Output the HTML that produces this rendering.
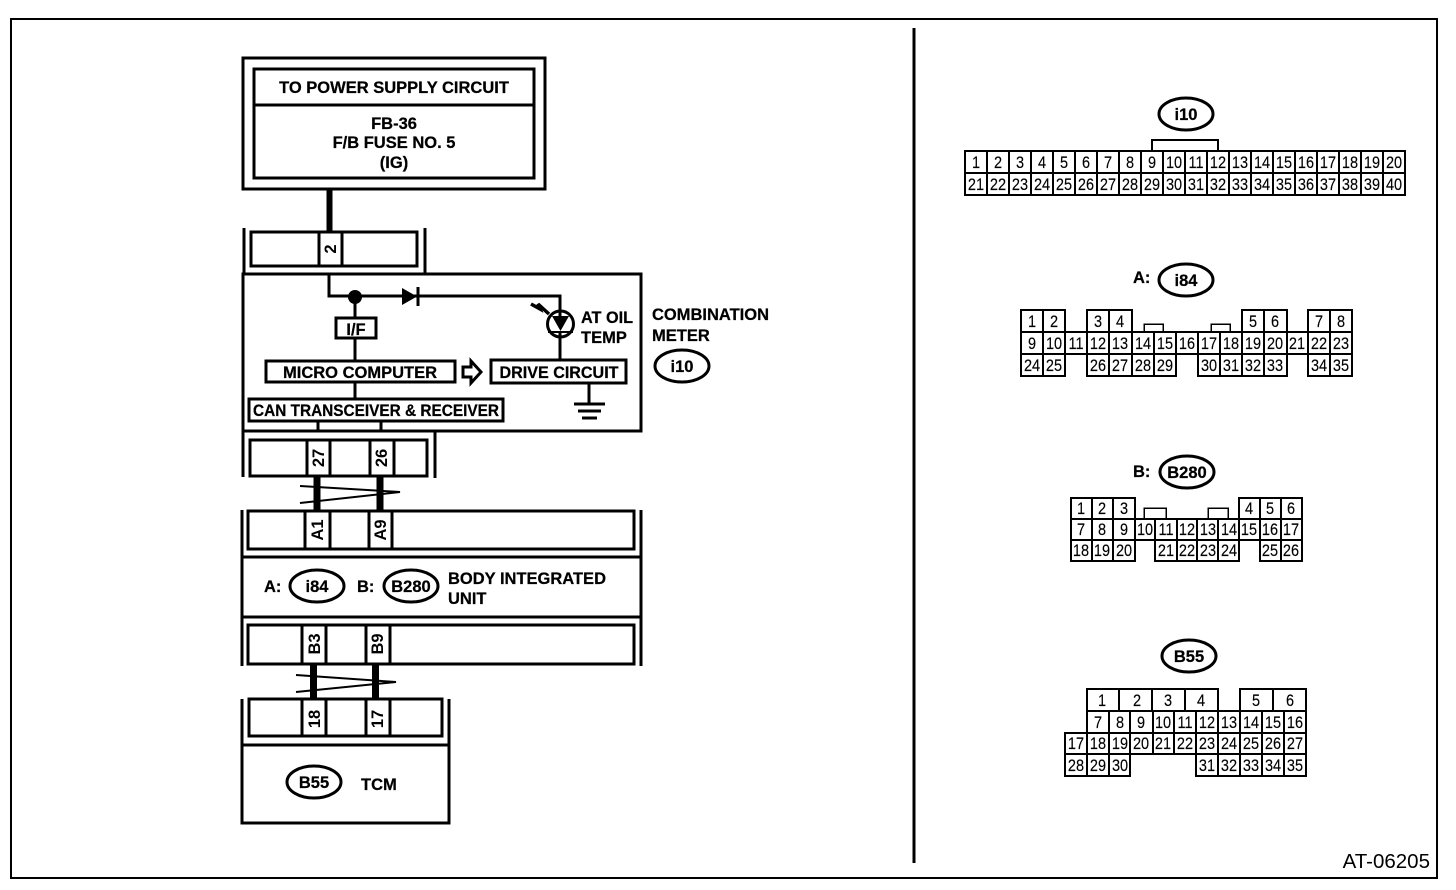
<!DOCTYPE html>
<html><head><meta charset="utf-8"><style>
html,body{margin:0;padding:0;background:#fff}
svg{display:block}
text{font-family:"Liberation Sans",sans-serif;fill:#000}
.b{font-weight:bold;font-size:16.5px;stroke:#000;stroke-width:.25}
.m{text-anchor:middle}
.r{font-size:16.5px;text-anchor:middle;transform-box:fill-box;transform-origin:center;transform:scaleX(.88);stroke:#000;stroke-width:.15}
.v{font-weight:bold;font-size:16.5px;text-anchor:middle}
.l{fill:none;stroke:#000;stroke-width:3;shape-rendering:crispEdges}
.g{fill:none;stroke:#000;stroke-width:2;shape-rendering:crispEdges}
.t{fill:none;stroke:#000;stroke-width:1.5;shape-rendering:crispEdges}
.o{fill:#fff;stroke:#000;stroke-width:3}
</style></head><body>
<svg width="1456" height="890" viewBox="0 0 1456 890" xmlns="http://www.w3.org/2000/svg">
<rect width="1456" height="890" fill="#fff"/>
<rect x="11" y="19" width="1426" height="859" class="g"/>
<path d="M914 28V863" class="l" style="stroke-width:3"/>

<!-- top box -->
<rect x="243" y="58" width="302" height="131" class="l"/>
<rect x="254" y="69" width="280" height="109" class="l"/>
<path d="M254 105H534" class="l"/>
<text x="394" y="93" class="b m">TO POWER SUPPLY CIRCUIT</text>
<text x="394" y="129" class="b m">FB-36</text>
<text x="394" y="148" class="b m">F/B FUSE NO. 5</text>
<text x="394" y="168" class="b m">(IG)</text>
<path d="M329.500 189V232" class="l" style="stroke-width:6"/>

<!-- connector 2 -->
<path d="M244 228V274M425 228V274" class="l"/>
<rect x="251" y="232" width="166" height="34" class="l"/>
<path d="M319 232V266M342 232V266" class="l"/>
<text transform="translate(336,249) rotate(-90)" class="v">2</text>

<!-- meter box -->
<rect x="243" y="274" width="398" height="157" class="l"/>
<path d="M329 274V296H560V359M355 296V318M355 338V361M355 383V399M318 422V431M381 422V431M589 383V404" class="l"/>
<circle cx="355" cy="297" r="7" fill="#000"/>
<path d="M402 288L417 296.500L402 305Z" fill="#000"/>
<path d="M418 287V306" class="l"/>
<rect x="336" y="318" width="40" height="20" class="l"/>
<text x="356" y="335" class="b m">I/F</text>
<rect x="266" y="361" width="189" height="21" class="l"/>
<text x="360" y="378" class="b m">MICRO COMPUTER</text>
<path d="M463 367H471V361L481 372L471 383V377H463Z" fill="#fff" stroke="#000" stroke-width="3"/>
<rect x="491" y="360" width="135" height="23" class="l"/>
<text x="559" y="378" class="b m" textLength="119" lengthAdjust="spacingAndGlyphs">DRIVE CIRCUIT</text>
<rect x="249" y="399" width="254" height="22" class="l"/>
<text x="376" y="416" class="b m" textLength="246" lengthAdjust="spacingAndGlyphs">CAN TRANSCEIVER &amp; RECEIVER</text>
<path d="M574 404H605M578 411H601M582 418H597" class="l"/>
<circle cx="560.500" cy="324" r="13" fill="#fff" stroke="#000" stroke-width="3"/>
<path d="M552 316H569L560.500 331Z" fill="#000"/>
<path d="M548 332H573" class="g"/>
<path d="M560 296V318M560 331V359" class="l"/>
<path d="M531 304L540 309L538 304L549 314" fill="none" stroke="#000" stroke-width="3.500"/>
<text x="581" y="323" class="b" textLength="52" lengthAdjust="spacingAndGlyphs">AT OIL</text>
<text x="581" y="343" class="b">TEMP</text>
<text x="652" y="320" class="b">COMBINATION</text>
<text x="652" y="341" class="b">METER</text>
<ellipse cx="682" cy="366" rx="27" ry="16" class="o"/>
<text x="682" y="372" class="b m">i10</text>

<!-- connector 27/26 -->
<path d="M243 431V477M435 431V478" class="l"/>
<rect x="250" y="440" width="177" height="36" class="l"/>
<path d="M307 440V476M330 440V476M370 440V476M394 440V476" class="l"/>
<text transform="translate(324,458) rotate(-90)" class="v">27</text>
<text transform="translate(387,458) rotate(-90)" class="v">26</text>
<path d="M317 477V511M380 477V511" class="l" style="stroke-width:7"/>
<path d="M300 486L400 492L300 503" fill="none" stroke="#000" stroke-width="2"/>

<!-- body unit -->
<path d="M242 510V666M641 510V666M242 557H641M242 617H641" class="l"/>
<rect x="248" y="511" width="386" height="38" class="l"/>
<path d="M305 511V549M330 511V549M369 511V549M392 511V549" class="l"/>
<text transform="translate(323,530) rotate(-90)" class="v">A1</text>
<text transform="translate(386,530) rotate(-90)" class="v">A9</text>
<text x="264" y="592" class="b">A:</text>
<ellipse cx="317" cy="586" rx="27" ry="16" class="o"/>
<text x="317" y="592" class="b m">i84</text>
<text x="357" y="592" class="b">B:</text>
<ellipse cx="411" cy="586" rx="27" ry="16" class="o"/>
<text x="411" y="592" class="b m">B280</text>
<text x="448" y="584" class="b">BODY INTEGRATED</text>
<text x="448" y="604" class="b">UNIT</text>
<rect x="248" y="625" width="386" height="39" class="l"/>
<path d="M302 625V664M326 625V664M366 625V664M390 625V664" class="l"/>
<text transform="translate(320,644) rotate(-90)" class="v">B3</text>
<text transform="translate(383,644) rotate(-90)" class="v">B9</text>
<path d="M313.500 664V700M375.500 664V700" class="l" style="stroke-width:7"/>
<path d="M296 675L396 682L296 692" fill="none" stroke="#000" stroke-width="2"/>

<!-- TCM -->
<path d="M242 699V823H449V699M242 745H449" class="l"/>
<rect x="249" y="699" width="193" height="37" class="l"/>
<path d="M302 699V736M326 699V736M366 699V736M390 699V736" class="l"/>
<text transform="translate(320,719) rotate(-90)" class="v">18</text>
<text transform="translate(383,719) rotate(-90)" class="v">17</text>
<ellipse cx="314" cy="782" rx="27" ry="16" class="o"/>
<text x="314" y="788" class="b m">B55</text>
<text x="361" y="790" class="b">TCM</text>

<text x="1430" y="868" style="font-size:20.5px;text-anchor:end">AT-06205</text>

<!-- i10 -->
<ellipse cx="1186" cy="114" rx="27" ry="16" class="o"/>
<text x="1186" y="120" class="b m">i10</text>
<path d="M1152 151V140H1218V151" class="g"/>
<rect x="965" y="151" width="440" height="44" class="g"/>
<path d="M965 173H1405M987 151V195M1009 151V195M1031 151V195M1053 151V195M1075 151V195M1097 151V195M1119 151V195M1141 151V195M1163 151V195M1185 151V195M1207 151V195M1229 151V195M1251 151V195M1273 151V195M1295 151V195M1317 151V195M1339 151V195M1361 151V195M1383 151V195" class="g"/>
<text x="976" y="168" class="r">1</text><text x="998" y="168" class="r">2</text><text x="1020" y="168" class="r">3</text><text x="1042" y="168" class="r">4</text><text x="1064" y="168" class="r">5</text><text x="1086" y="168" class="r">6</text><text x="1108" y="168" class="r">7</text><text x="1130" y="168" class="r">8</text><text x="1152" y="168" class="r">9</text><text x="1174" y="168" class="r">10</text><text x="1196" y="168" class="r">11</text><text x="1218" y="168" class="r">12</text><text x="1240" y="168" class="r">13</text><text x="1262" y="168" class="r">14</text><text x="1284" y="168" class="r">15</text><text x="1306" y="168" class="r">16</text><text x="1328" y="168" class="r">17</text><text x="1350" y="168" class="r">18</text><text x="1372" y="168" class="r">19</text><text x="1394" y="168" class="r">20</text>
<text x="976" y="190" class="r">21</text><text x="998" y="190" class="r">22</text><text x="1020" y="190" class="r">23</text><text x="1042" y="190" class="r">24</text><text x="1064" y="190" class="r">25</text><text x="1086" y="190" class="r">26</text><text x="1108" y="190" class="r">27</text><text x="1130" y="190" class="r">28</text><text x="1152" y="190" class="r">29</text><text x="1174" y="190" class="r">30</text><text x="1196" y="190" class="r">31</text><text x="1218" y="190" class="r">32</text><text x="1240" y="190" class="r">33</text><text x="1262" y="190" class="r">34</text><text x="1284" y="190" class="r">35</text><text x="1306" y="190" class="r">36</text><text x="1328" y="190" class="r">37</text><text x="1350" y="190" class="r">38</text><text x="1372" y="190" class="r">39</text><text x="1394" y="190" class="r">40</text>

<!-- i84 -->
<text x="1133" y="283" class="b">A:</text>
<ellipse cx="1186" cy="280" rx="27" ry="16" class="o"/>
<text x="1186" y="286" class="b m">i84</text>
<path d="M1144 332V324H1163V332M1211 332V324H1230V332" class="t"/>
<path d="M1021 310H1065V332H1021ZM1087 310H1132V332H1087ZM1242 310H1287V332H1242ZM1308 310H1352V332H1308ZM1021 332H1352V354H1021ZM1021 354H1065V376H1021ZM1087 354H1176V376H1087ZM1198 354H1287V376H1198ZM1308 354H1352V376H1308ZM1043 310V332M1109 310V332M1264 310V332M1330 310V332M1043 332V354M1065 332V354M1087 332V354M1109 332V354M1132 332V354M1154 332V354M1176 332V354M1198 332V354M1220 332V354M1242 332V354M1264 332V354M1287 332V354M1308 332V354M1330 332V354M1043 354V376M1109 354V376M1132 354V376M1154 354V376M1220 354V376M1242 354V376M1264 354V376M1330 354V376" class="g"/>
<text x="1032" y="327" class="r">1</text><text x="1054" y="327" class="r">2</text><text x="1098" y="327" class="r">3</text><text x="1120" y="327" class="r">4</text><text x="1253" y="327" class="r">5</text><text x="1275" y="327" class="r">6</text><text x="1319" y="327" class="r">7</text><text x="1341" y="327" class="r">8</text>
<text x="1032" y="349" class="r">9</text><text x="1054" y="349" class="r">10</text><text x="1076" y="349" class="r">11</text><text x="1098" y="349" class="r">12</text><text x="1120" y="349" class="r">13</text><text x="1143" y="349" class="r">14</text><text x="1165" y="349" class="r">15</text><text x="1187" y="349" class="r">16</text><text x="1209" y="349" class="r">17</text><text x="1231" y="349" class="r">18</text><text x="1253" y="349" class="r">19</text><text x="1275" y="349" class="r">20</text><text x="1297" y="349" class="r">21</text><text x="1319" y="349" class="r">22</text><text x="1341" y="349" class="r">23</text>
<text x="1032" y="371" class="r">24</text><text x="1054" y="371" class="r">25</text><text x="1098" y="371" class="r">26</text><text x="1120" y="371" class="r">27</text><text x="1143" y="371" class="r">28</text><text x="1165" y="371" class="r">29</text><text x="1209" y="371" class="r">30</text><text x="1231" y="371" class="r">31</text><text x="1253" y="371" class="r">32</text><text x="1275" y="371" class="r">33</text><text x="1319" y="371" class="r">34</text><text x="1341" y="371" class="r">35</text>

<!-- B280 -->
<text x="1133" y="477" class="b">B:</text>
<ellipse cx="1187" cy="472" rx="27" ry="16" class="o"/>
<text x="1187" y="478" class="b m">B280</text>
<path d="M1144 519V508H1166V519M1208 519V508H1228V519" class="t"/>
<path d="M1071 498H1135V519H1071ZM1239 498H1302V519H1239ZM1071 519H1302V540H1071ZM1071 540H1135V561H1071ZM1155 540H1239V561H1155ZM1260 540H1302V561H1260ZM1092 498V519M1113 498V519M1260 498V519M1281 498V519M1092 519V540M1113 519V540M1135 519V540M1155 519V540M1177 519V540M1197 519V540M1218 519V540M1239 519V540M1260 519V540M1281 519V540M1092 540V561M1113 540V561M1177 540V561M1197 540V561M1218 540V561M1281 540V561" class="g"/>
<text x="1081" y="514" class="r">1</text><text x="1102" y="514" class="r">2</text><text x="1124" y="514" class="r">3</text><text x="1249" y="514" class="r">4</text><text x="1270" y="514" class="r">5</text><text x="1291" y="514" class="r">6</text>
<text x="1081" y="535" class="r">7</text><text x="1102" y="535" class="r">8</text><text x="1124" y="535" class="r">9</text><text x="1145" y="535" class="r">10</text><text x="1166" y="535" class="r">11</text><text x="1187" y="535" class="r">12</text><text x="1208" y="535" class="r">13</text><text x="1229" y="535" class="r">14</text><text x="1249" y="535" class="r">15</text><text x="1270" y="535" class="r">16</text><text x="1291" y="535" class="r">17</text>
<text x="1081" y="556" class="r">18</text><text x="1102" y="556" class="r">19</text><text x="1124" y="556" class="r">20</text><text x="1166" y="556" class="r">21</text><text x="1187" y="556" class="r">22</text><text x="1208" y="556" class="r">23</text><text x="1229" y="556" class="r">24</text><text x="1270" y="556" class="r">25</text><text x="1291" y="556" class="r">26</text>

<!-- B55 -->
<ellipse cx="1189" cy="656" rx="27" ry="16" class="o"/>
<text x="1189" y="662" class="b m">B55</text>
<path d="M1087 689H1218V711H1087ZM1240 689H1306V711H1240ZM1087 711H1306V733H1087ZM1065 733H1306V754H1065ZM1065 754H1130V776H1065ZM1196 754H1306V776H1196ZM1119 689V711M1152 689V711M1185 689V711M1273 689V711M1109 711V733M1130 711V733M1153 711V733M1174 711V733M1196 711V733M1218 711V733M1240 711V733M1262 711V733M1284 711V733M1087 733V754M1109 733V754M1130 733V754M1153 733V754M1174 733V754M1196 733V754M1218 733V754M1240 733V754M1262 733V754M1284 733V754M1087 754V776M1109 754V776M1218 754V776M1240 754V776M1262 754V776M1284 754V776" class="g"/>
<text x="1102" y="706" class="r">1</text><text x="1137" y="706" class="r">2</text><text x="1168" y="706" class="r">3</text><text x="1201" y="706" class="r">4</text><text x="1256" y="706" class="r">5</text><text x="1290" y="706" class="r">6</text>
<text x="1098" y="728" class="r">7</text><text x="1120" y="728" class="r">8</text><text x="1141" y="728" class="r">9</text><text x="1163" y="728" class="r">10</text><text x="1185" y="728" class="r">11</text><text x="1207" y="728" class="r">12</text><text x="1229" y="728" class="r">13</text><text x="1251" y="728" class="r">14</text><text x="1273" y="728" class="r">15</text><text x="1295" y="728" class="r">16</text>
<text x="1076" y="749" class="r">17</text><text x="1098" y="749" class="r">18</text><text x="1120" y="749" class="r">19</text><text x="1141" y="749" class="r">20</text><text x="1163" y="749" class="r">21</text><text x="1185" y="749" class="r">22</text><text x="1207" y="749" class="r">23</text><text x="1229" y="749" class="r">24</text><text x="1251" y="749" class="r">25</text><text x="1273" y="749" class="r">26</text><text x="1295" y="749" class="r">27</text>
<text x="1076" y="771" class="r">28</text><text x="1098" y="771" class="r">29</text><text x="1120" y="771" class="r">30</text><text x="1207" y="771" class="r">31</text><text x="1229" y="771" class="r">32</text><text x="1251" y="771" class="r">33</text><text x="1273" y="771" class="r">34</text><text x="1295" y="771" class="r">35</text>
</svg>
</body></html>
